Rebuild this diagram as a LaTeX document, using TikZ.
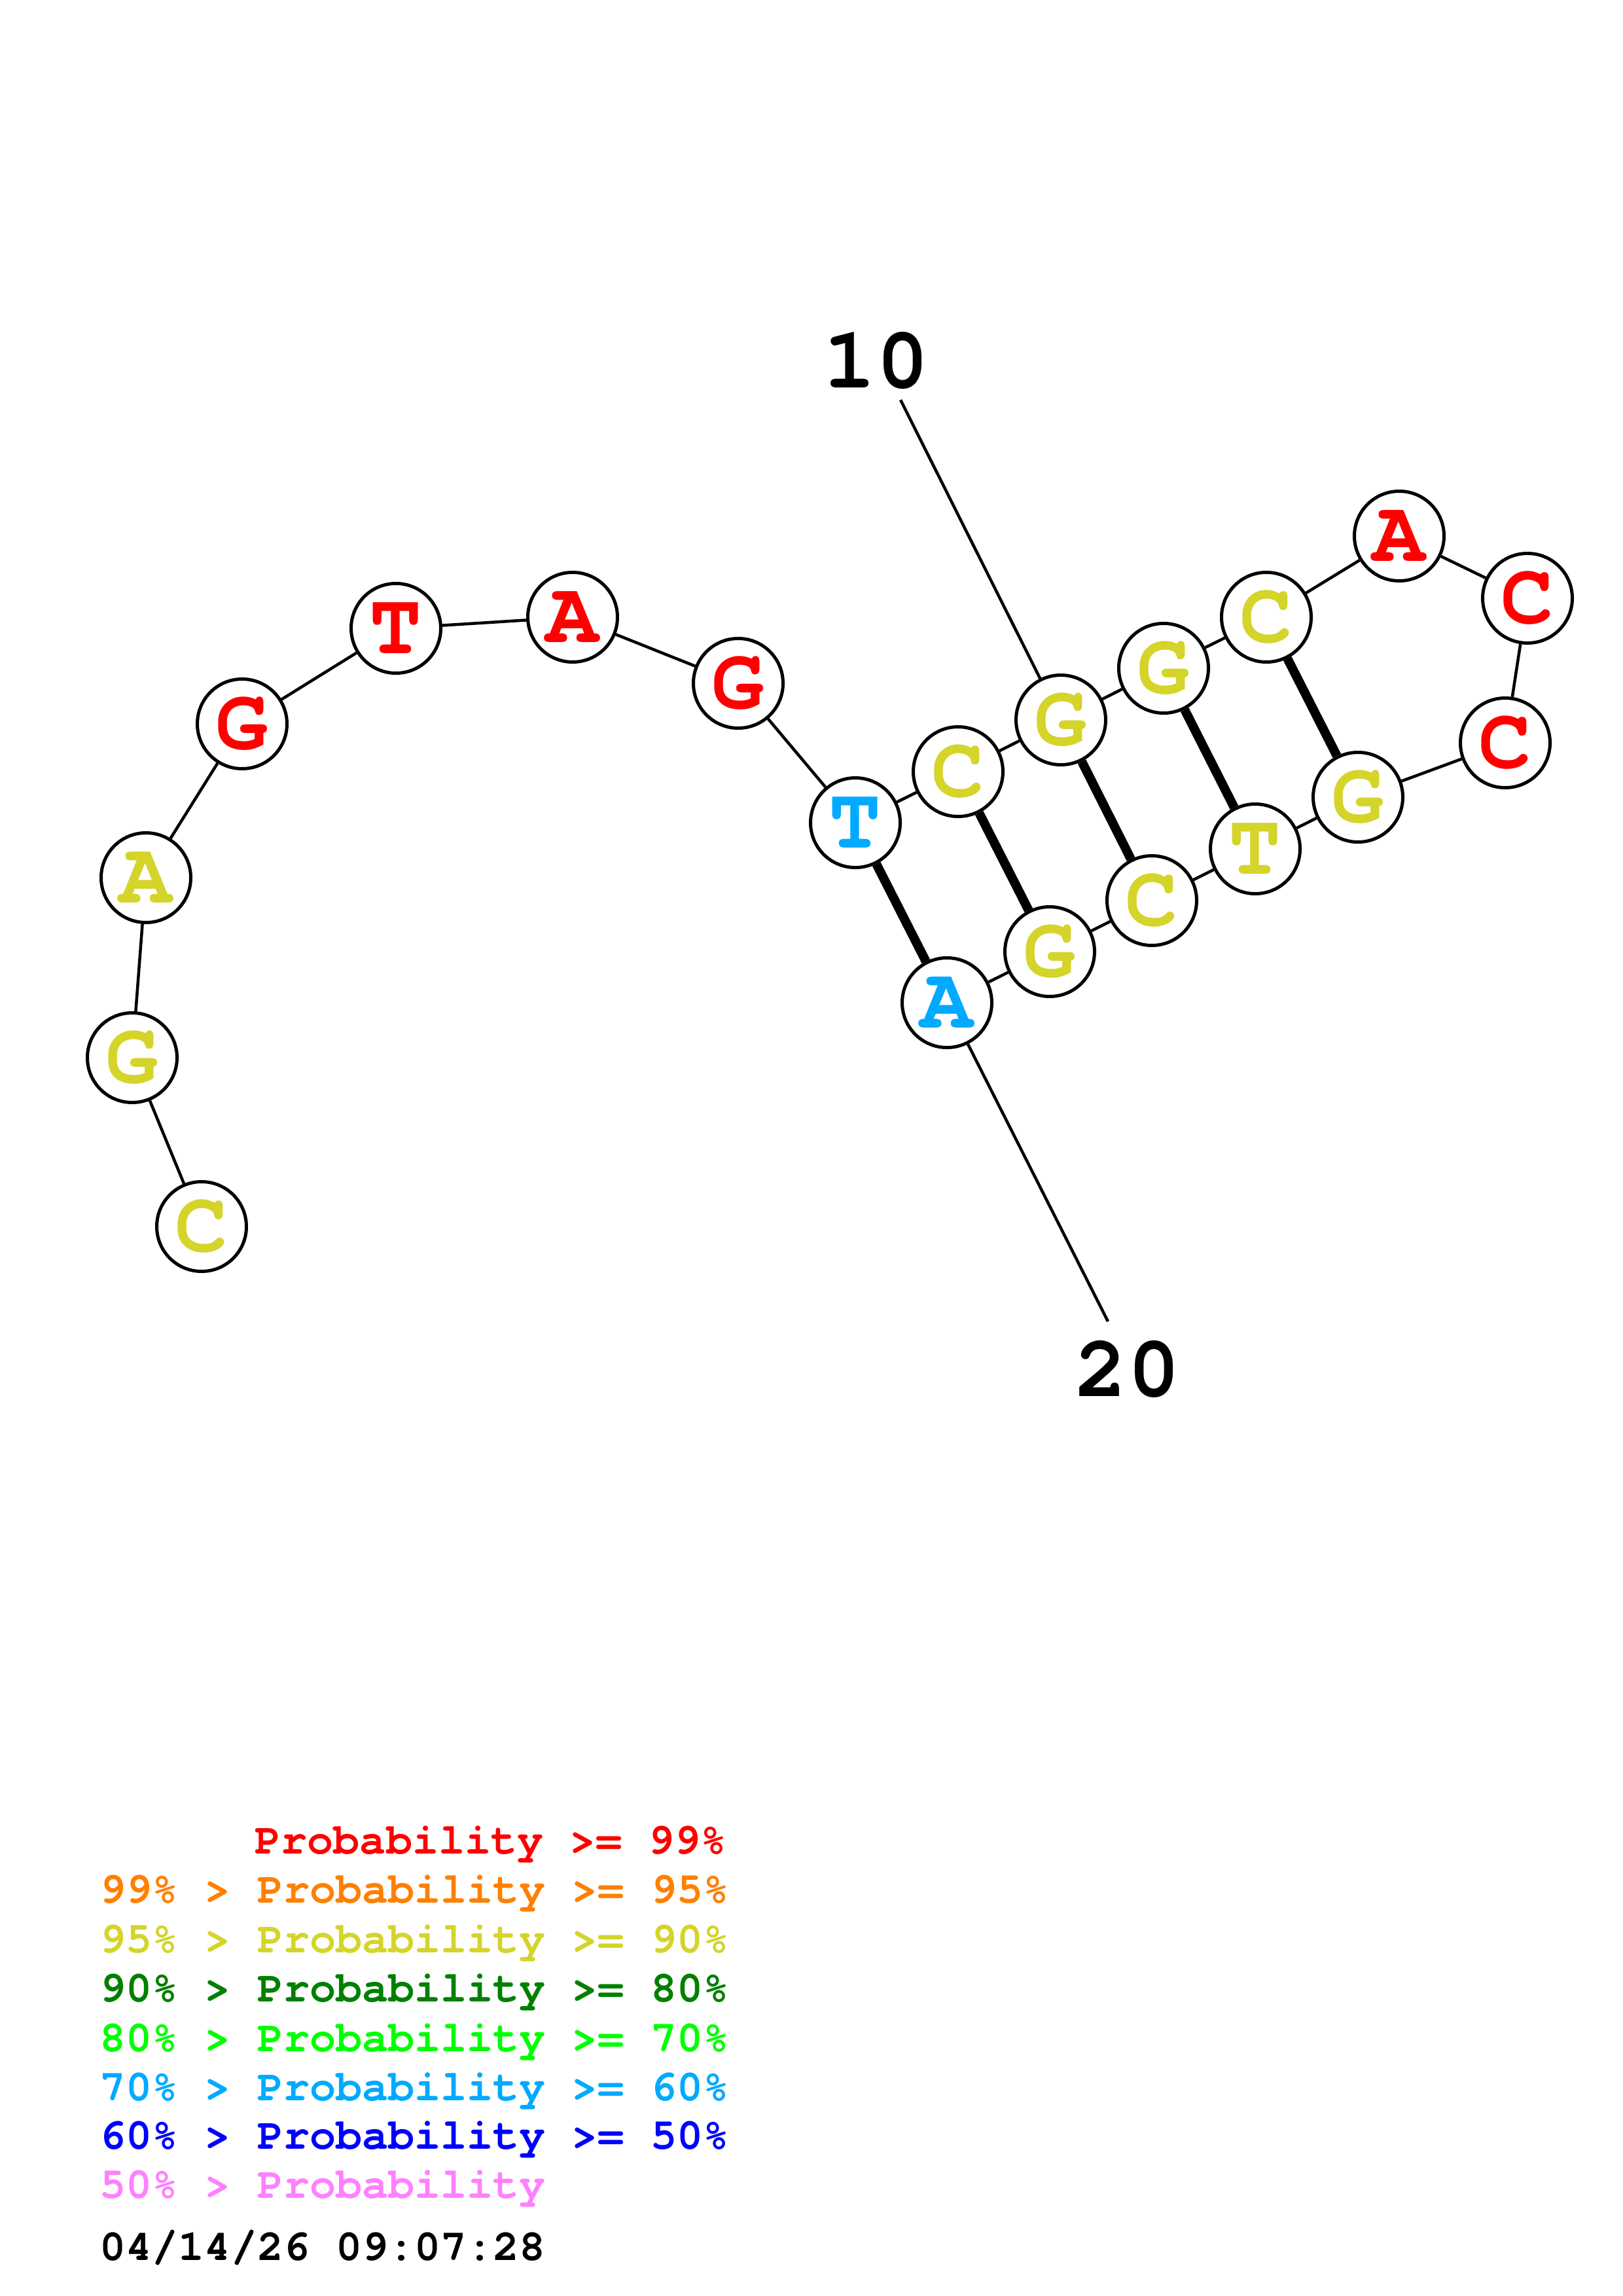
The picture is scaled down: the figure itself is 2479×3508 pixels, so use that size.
\documentclass[tikz,border=0pt]{standalone}
\usepackage{fontspec}
\newfontfamily\mono{TeX Gyre Cursor}
\definecolor{pred}{RGB}{255,0,0}
\definecolor{porange}{RGB}{255,128,0}
\definecolor{pyellow}{RGB}{212,212,42}
\definecolor{pdgreen}{RGB}{0,128,0}
\definecolor{plgreen}{RGB}{0,255,0}
\definecolor{psky}{RGB}{0,170,255}
\definecolor{pblue}{RGB}{0,0,255}
\definecolor{ppink}{RGB}{255,128,255}
\tikzset{
  base/.style={circle, draw=black, line width=0.5mm, fill=white, minimum size=13.7mm, inner sep=0pt, font=\mono\bfseries\fontsize{38}{38}\selectfont},
  bb/.style={line width=0.45mm},
  bp/.style={line width=1.4mm},
  lbl/.style={inner sep=0pt, font=\mono\bfseries\fontsize{38}{38}\selectfont},
  leg/.style={anchor=base west, inner sep=0pt, font=\mono\bfseries\fontsize{19}{19}\selectfont}
}
\begin{document}
\begin{tikzpicture}[x=0.1mm,y=-0.1mm]
\path[use as bounding box, fill=white] (0,0) rectangle (2479,3508);
% nucleotides
\node[base, text=pyellow] (n1) at (308,1874) {C};
\node[base, text=pyellow] (n2) at (202,1616) {G};
\node[base, text=pyellow] (n3) at (223,1341) {A};
\node[base, text=pred] (n4) at (370,1106) {G};
\node[base, text=pred] (n5) at (605,960) {T};
\node[base, text=pred] (n6) at (875,943) {A};
\node[base, text=pred] (n7) at (1128,1044) {G};
\node[base, text=psky] (n8) at (1307,1257) {T};
\node[base, text=pyellow] (n9) at (1464,1179) {C};
\node[base, text=pyellow] (n10) at (1621,1100) {G};
\node[base, text=pyellow] (n11) at (1778,1021) {G};
\node[base, text=pyellow] (n12) at (1935,943) {C};
\node[base, text=pred] (n13) at (2138,819) {A};
\node[base, text=pred] (n14) at (2334,914) {C};
\node[base, text=pred] (n15) at (2300,1135) {C};
\node[base, text=pyellow] (n16) at (2075,1218) {G};
\node[base, text=pyellow] (n17) at (1918,1297) {T};
\node[base, text=pyellow] (n18) at (1760,1376) {C};
\node[base, text=pyellow] (n19) at (1604,1454) {G};
\node[base, text=psky] (n20) at (1447,1532) {A};
% backbone
\draw[bb] (n1) -- (n2) -- (n3) -- (n4) -- (n5) -- (n6) -- (n7) -- (n8) -- (n9) -- (n10) -- (n11) -- (n12) -- (n13) -- (n14) -- (n15) -- (n16) -- (n17) -- (n18) -- (n19) -- (n20);
% base pairs
\draw[bp] (n8) -- (n20);
\draw[bp] (n9) -- (n19);
\draw[bp] (n10) -- (n18);
\draw[bp] (n11) -- (n17);
\draw[bp] (n12) -- (n16);
% position labels
\node[lbl] (l10) at (1339,551) {10};
\node[lbl] (l20) at (1723,2092) {20};
\coordinate (e10) at (1376,611);
\coordinate (e20) at (1693,2019);
\draw[bb] (e10) -- (n10);
\draw[bb] (n20) -- (e20);
% legend
\node[leg, text=pred] (g1) at (389,2832) {Probability >= 99\%};
\node[leg, text=porange] (g2) at (152,2907) {99\% > Probability >= 95\%};
\node[leg, text=pyellow] (g3) at (152,2983) {95\% > Probability >= 90\%};
\node[leg, text=pdgreen] (g4) at (152,3058) {90\% > Probability >= 80\%};
\node[leg, text=plgreen] (g5) at (152,3134) {80\% > Probability >= 70\%};
\node[leg, text=psky] (g6) at (152,3209) {70\% > Probability >= 60\%};
\node[leg, text=pblue] (g7) at (152,3283) {60\% > Probability >= 50\%};
\node[leg, text=ppink] (g8) at (152,3358) {50\% > Probability};
\node[leg, text=black] (g9) at (152,3453) {04/14/26 09:07:28};
\end{tikzpicture}
\end{document}
